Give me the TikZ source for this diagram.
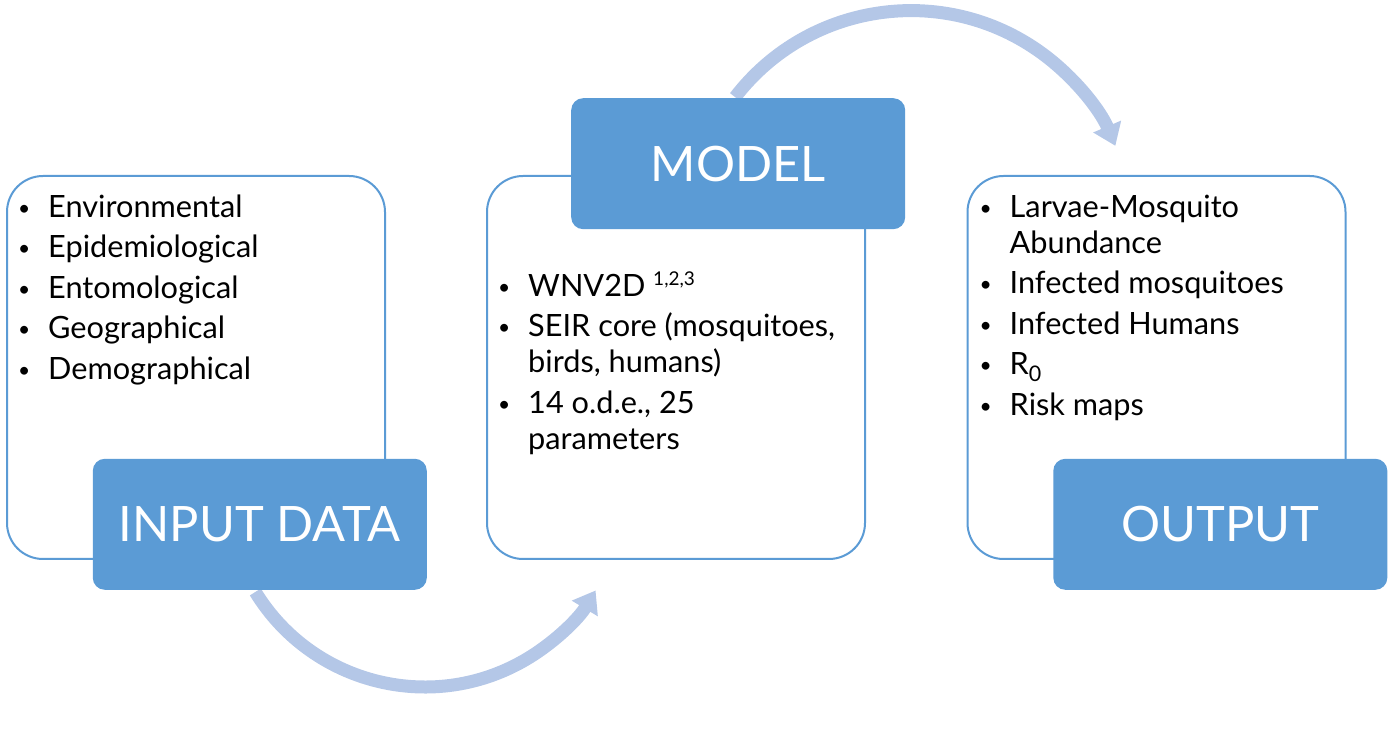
\documentclass[tikz,border=0pt]{standalone}
\usepackage{fontspec}
\setmainfont{Lato}
\usetikzlibrary{arrows.meta,positioning}

\definecolor{boxBlue}{RGB}{91,155,213}
\definecolor{arcBlue}{RGB}{180,199,231}

\tikzset{
  panel/.style={draw=boxBlue, line width=2pt, fill=white, rounded corners=36pt,
    minimum width=378pt, minimum height=383pt, inner sep=0pt},
  tag/.style={fill=boxBlue, rounded corners=12pt, minimum width=334pt,
    minimum height=131pt, inner sep=0pt, text=white,
    font=\fontsize{48.8}{58}\selectfont},
  items/.style={inner sep=0pt, align=left, font=\fontsize{30.7}{36}\selectfont},
  loopArrow/.style={draw=arcBlue, line width=13pt,
    -{Triangle[length=21pt,width=29pt]}}
}

\newcommand{\bitem}{\strut\makebox[28pt][l]{\hspace*{-2pt}\raisebox{2pt}{\fontsize{21}{21}\selectfont\textbullet}}}
\newcommand{\cont}{\hspace*{28pt}}

\begin{document}
\begin{tikzpicture}[x=1pt,y=1pt]

  \useasboundingbox (0,0) rectangle (1389,735);

  % Arrows

  \coordinate (lowHub)  at (425,247) ;
  \coordinate (highHub) at (911,502.4) ;
  \draw[loopArrow] ([shift={(211.5:199)}]lowHub) arc[start angle=211.5, end angle=329, radius=199] ;
  \draw[loopArrow] ([shift={(142.4:222)}]highHub) arc[start angle=142.4, end angle=23, radius=222] ;

  % Panels

  \node[panel] (inPanel)    at (196,367.5)    {} ; %
  \node[panel] (modelPanel) at (676,367.5)    {} ; %
  \node[panel] (outPanel)   at (1156.5,367.5) {} ; %

  % Tags

  \node[tag, anchor=south east, xshift=41pt, yshift=-30pt] (inTag)    at (inPanel.south east)    {INPUT DATA} ; %
  \node[tag, anchor=north west, xshift=85pt, yshift=77pt]  (modelTag) at (modelPanel.north west) {MODEL} ; %
  \node[tag, anchor=south east, xshift=41pt, yshift=-30pt] (outTag)   at (outPanel.south east)   {OUTPUT} ; %

  % Lists

  \node[items, below right=16.8pt and 14pt of inPanel.north west] (inList)
    {\bitem Environmental\\[4.5pt]
     \bitem Epidemiological\\[4.5pt]
     \bitem Entomological\\[4.5pt]
     \bitem Geographical\\[4.5pt]
     \bitem Demographical} ; %

  \node[items, below right=95.8pt and 14pt of modelPanel.north west] (modelList)
    {\bitem WNV2D \raisebox{11pt}{\fontsize{19}{19}\selectfont 1,2,3}\\[4.5pt]
     \bitem SEIR core (mosquitoes,\\
     \cont birds, humans)\\[4.5pt]
     \bitem 14 o.d.e., 25\\
     \cont parameters} ; %

  \node[items, below right=16.8pt and 15pt of outPanel.north west] (outList)
    {\bitem Larvae-Mosquito\\
     \cont Abundance\\[4.5pt]
     \bitem Infected mosquitoes\\[4.5pt]
     \bitem Infected Humans\\[4.5pt]
     \bitem R\textsubscript{0}\\[4.5pt]
     \bitem Risk maps} ; %

\end{tikzpicture}
\end{document}
